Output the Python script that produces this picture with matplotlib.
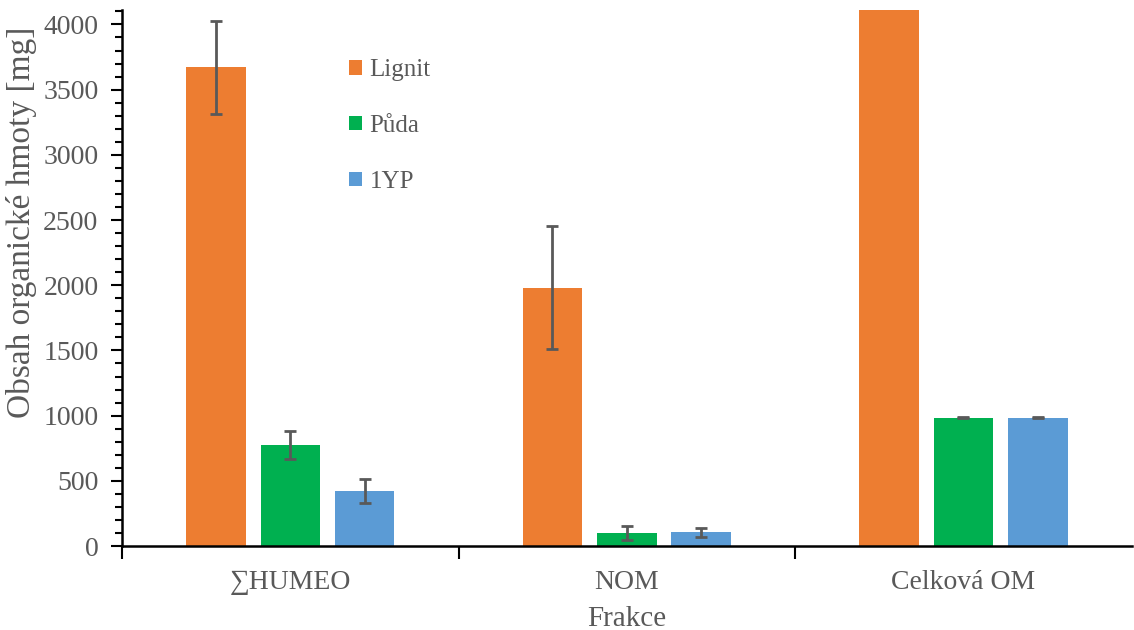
import numpy as np
import matplotlib.pyplot as plt
from matplotlib.ticker import MultipleLocator

categories = ["\u2211HUMEO", "NOM", "Celková OM"]
series = ["Lignit", "Půda", "1YP"]
lignit = [3670, 1981, 4500]
puda = [775, 100, 983]
yp = [422, 107, 983]
lignit_err = [360, 472, 0]
puda_err = [107, 54, 4]
yp_err = [92, 35, 4]
colors = ["#ED7D31", "#00B050", "#5B9BD5"]

plt.rcParams['font.family'] = ['Liberation Serif', 'DejaVu Serif']
text_color = "#595959"

fig = plt.figure(figsize=(11.34, 6.3), dpi=100)
ax = fig.add_axes([0.1076, 0.1333, 0.8904, 0.8507])

x = np.arange(len(categories))
width = 0.177
step = 0.221
data = [lignit, puda, yp]
errs = [lignit_err, puda_err, yp_err]
for i, (vals, err, name, c) in enumerate(zip(data, errs, series, colors)):
    ax.bar(x + (i - 1) * step, vals, width, color=c, label=name,
           yerr=err, error_kw=dict(ecolor="#595959", elinewidth=2, capsize=4.5, capthick=2))

ax.set_xlim(-0.5, 2.5)
ax.set_ylim(0, 4110)
ax.yaxis.set_major_locator(MultipleLocator(500))
ax.yaxis.set_minor_locator(MultipleLocator(100))
ax.set_xticks([-0.5, 0.5, 1.5], minor=False)
ax.set_xticklabels([])
ax.set_xticks(x, minor=True)
ax.set_xticklabels(categories, minor=True)
ax.tick_params(axis='x', which='minor', length=0, pad=17, labelsize=20, labelcolor=text_color)
ax.tick_params(axis='x', which='major', length=9, width=1.5, direction='out')
ax.tick_params(axis='y', which='major', length=8, width=1.5, pad=9, labelsize=20, labelcolor=text_color)
ax.tick_params(axis='y', which='minor', length=5, width=1.5)

for s in ['top', 'right']:
    ax.spines[s].set_visible(False)
ax.spines['left'].set_linewidth(1.8)
ax.spines['bottom'].set_linewidth(1.8)

ax.set_ylabel("Obsah organické hmoty [mg]", fontsize=24, color=text_color)
ax.yaxis.set_label_coords(-0.084, 0.604)
ax.set_xlabel("Frakce", fontsize=21, color=text_color, labelpad=8)

leg = ax.legend(loc='upper left', bbox_to_anchor=(0.203, 0.95), frameon=False,
                fontsize=18, handlelength=0.5, handleheight=0.5, handletextpad=0.3,
                labelspacing=1.35)
for t in leg.get_texts():
    t.set_color(text_color)

fig.savefig("out.png", dpi=100)
